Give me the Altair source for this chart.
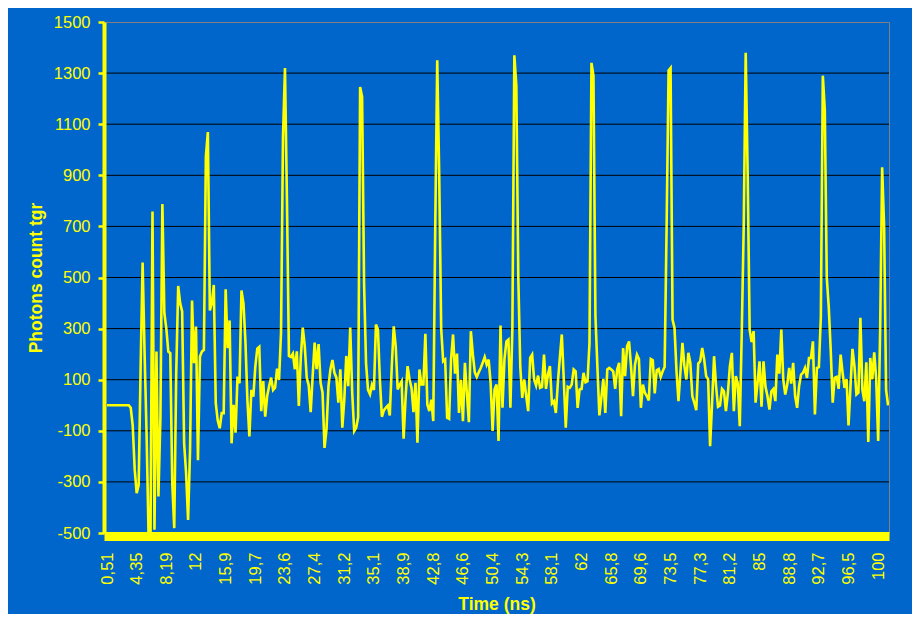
import altair as alt
import pandas as pd

# photon counts, one sample every 0.256 ns starting at 0.51 ns
counts = [
    0, 0, 0, 0, 0, 0, 0, 0, 0, 0, 0, 0, -10, -80, -250,
    -344, -312, 150, 559, 204, -109, -500, -500, 758, -487, 210, -357, -50, 788, 360,
    300, 210, 204, -305, -481, 125, 467, 399, 367, -149, -266, -449, -175, 410, 165,
    308, -215, 191, 210, 217, 973, 1069, 371, 399, 471, 8, -60, -90, -31, -31,
    454, 223, 332, -149, 2, -107, 112, 86, 449, 399, 250, 20, -122, 60, 34,
    151, 222, 229, -23, 95, -45, 36, 75, 108, 60, 69, 143, 99, 284, 1050,
    1320, 800, 193, 189, 202, 141, 211, -3, 186, 304, 232, 108, 78, -27, 114,
    245, 141, 239, 88, 49, -167, -95, 75, 141, 177, 127, 108, 10, 141, -88,
    23, 193, 75, 304, 49, -101, -88, -47, 1246, 1207, 477, 164, 60, 43, 80,
    60, 316, 296, 100, -45, -20, -10, -1, -40, 150, 309, 231, 62, 80, 94,
    -131, 30, 153, 101, 68, -27, 88, -147, 140, 81, 81, 280, 3, -23, 22,
    -62, 700, 1350, 900, 300, 172, 179, -49, -53, 179, 277, 124, 202, -30, 100,
    -62, 166, 46, -66, 290, 200, 129, 111, 129, 146, 166, 189, 159, 179, 88,
    -101, 62, 81, -140, 312, -10, 181, 250, 257, -10, 300, 1370, 1250, 500, 150,
    29, 101, 36, -23, 185, 198, 101, 77, 116, 68, 72, 198, 64, 120, 153,
    7, 16, -30, 88, 185, 277, 101, -88, 72, 68, 81, 140, 133, -10, 62,
    64, 127, 90, 94, 244, 1340, 1290, 350, 150, -40, 30, 103, -30, 140, 146,
    140, 133, 64, 140, 166, -43, 224, 114, 231, 250, 153, 36, 159, 198, 181,
    -10, 81, 49, 36, 19, 181, 176, 46, 137, 142, 111, 133, 150, 700, 1310,
    1320, 335, 303, 133, 16, 130, 244, 153, 101, 205, 166, 36, 10, -19, 163,
    172, 224, 179, 114, 101, -160, 10, 192, 75, -6, -1, 64, 55, -23, 49,
    153, 205, -23, 114, 85, -82, 283, 700, 1380, 900, 296, 247, 290, 10, 88,
    172, -6, 172, 72, 36, -17, 55, 64, 16, 198, 124, 296, 101, 42, 81,
    146, 85, 166, 36, -10, 75, 120, 127, 146, 107, 185, 185, 250, -36, 146,
    149, 345, 1290, 1155, 500, 384, 215, 10, 107, 111, 64, 198, 127, 68, 103,
    -79, 75, 221, 153, 42, 49, 342, 62, 16, 168, -144, 185, 101, 207, 101,
    -140, 300, 931, 697, 59, 0,
]
t_start = 0.51
t_step = 0.256

x_tick_labels = ["0,51", "4,35", "8,19", "12", "15,9", "19,7", "23,6", "27,4",
                 "31,2", "35,1", "38,9", "42,8", "46,6", "50,4", "54,3", "58,1",
                 "62", "65,8", "69,6", "73,5", "77,3", "81,2", "85", "88,8",
                 "92,7", "96,5", "100"]
x_tick_step = 3.84
y_ticks = [-500, -300, -100, 100, 300, 500, 700, 900, 1100, 1300, 1500]
y_grid = [-300, -100, 100, 300, 500, 700, 900, 1100, 1300]

times = [round(t_start + t_step * i, 3) for i in range(len(counts))]
df = pd.DataFrame({"t": times, "count": counts})
grid_df = pd.DataFrame({"count": y_grid})

tick_values = [round(t_start + x_tick_step * k, 2) for k in range(len(x_tick_labels))]
parts = []
for v, lab in zip(tick_values[:-1], x_tick_labels[:-1]):
    parts.append(f"datum.value < {v + x_tick_step / 2:.3f} ? '{lab}' : ")
label_expr = "".join(parts) + f"'{x_tick_labels[-1]}'"

BLUE = "#0066CC"
YEL = "#FFFF00"
FONT = "Liberation Sans"

xscale = alt.Scale(domain=[0.12, 101.75], nice=False, zero=False)
yscale = alt.Scale(domain=[-500, 1500], nice=False, zero=False)

y_axis = alt.Axis(
    values=y_ticks,
    labelExpr="'' + datum.value",
    grid=False,
    domainColor=YEL,
    domainWidth=4,
    tickColor=YEL,
    tickSize=6,
    tickWidth=2.5,
    labelColor=YEL,
    labelFont=FONT,
    labelFontSize=16.5,
    labelPadding=8,
    title="Photons count tgr",
    titleColor=YEL,
    titleFont=FONT,
    titleFontSize=17.5,
    titleFontWeight="bold",
    titlePadding=8,
    zindex=1,
)

rules = alt.Chart(grid_df).mark_rule(color="black", strokeWidth=1).encode(
    y=alt.Y("count:Q", scale=yscale, axis=y_axis)
)

line = alt.Chart(df).mark_line(color=YEL, strokeWidth=2.6, clip=True).encode(
    x=alt.X(
        "t:Q",
        scale=xscale,
        axis=alt.Axis(
            values=tick_values,
            labelExpr=label_expr,
            title="Time (ns)",
            labelAngle=-90,
            labelAlign="right",
            labelBaseline="middle",
            labelFontSize=16.5,
            labelColor=YEL,
            labelFont=FONT,
            labelPadding=12,
            labelOverlap=False,
            labelFlush=False,
            tickSize=4,
            tickColor=YEL,
            domainColor=YEL,
            domainWidth=9,
            offset=3,
            grid=False,
            titleFont=FONT,
            titleFontSize=17.5,
            titleFontWeight="bold",
            titleColor=YEL,
            titlePadding=11,
            zindex=1,
        ),
    ),
    y=alt.Y("count:Q", scale=yscale, axis=y_axis),
)

chart = (
    alt.layer(rules, line)
    .properties(
        width=785,
        height=511,
        background=BLUE,
        autosize=alt.AutoSizeParams(type="none"),
        padding={"left": 96, "top": 14, "right": 23, "bottom": 81},
    )
    .configure_view(stroke="#808080", strokeWidth=1)
)

chart.save("out.html", embed_options={"renderer": "svg", "actions": False})
